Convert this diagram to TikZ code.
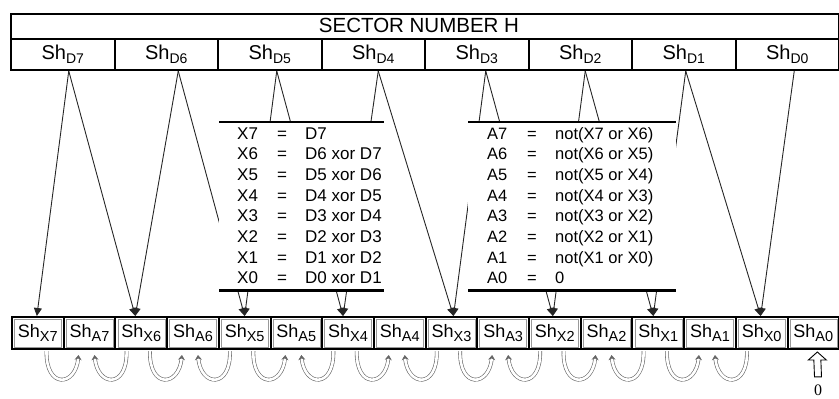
\documentclass[tikz,border=0pt]{standalone}
\usepackage{fontspec}
\setmainfont{Liberation Sans}
\newfontfamily\serifzero{Liberation Serif}
\usetikzlibrary{arrows.meta,calc}
\newcommand\ShTop[1]{{\fontsize{20}{22}\selectfont Sh}{\fontsize{14}{16}\selectfont\raisebox{-4.5pt}{#1}}}
\newcommand\ShBot[1]{{\fontsize{18}{20}\selectfont Sh}{\fontsize{14.5}{17}\selectfont\raisebox{-3.5pt}{#1}}}
\begin{document}
\begin{tikzpicture}[x=1pt,y=-1pt,
  topcell/.style={draw=black, line width=2pt, minimum width=103.5pt, minimum height=31pt, inner sep=0pt, anchor=north west},
  botcell/.style={draw=black, line width=2pt, minimum width=51.7pt, minimum height=32pt, inner sep=0pt, anchor=north west},
  innercell/.style={draw=black!40, line width=0.5pt, minimum width=47pt, minimum height=27.5pt, inner sep=0pt},
  feed/.style={line width=0.9pt, draw=black!85, -{Triangle[width=8pt,length=8pt]}},
  loopar/.style={draw=black!60, double=white, double distance=2.6pt, line width=0.6pt, -{Stealth[length=5pt,width=7pt]}},
  tabbox/.style={fill=white, inner sep=0pt, anchor=north west, minimum height=168pt},
  rule/.style={line width=2.5pt},
  xq/.style={font=\fontsize{17}{20}\selectfont, inner sep=0pt},
  aq/.style={font=\fontsize{16.5}{20}\selectfont, inner sep=0pt},
]
\useasboundingbox (0,0) rectangle (839,399);

% top register
\node[draw=black, line width=2pt, minimum width=828pt, minimum height=25pt, inner sep=0pt, anchor=north west] (title) at (10,13) {};
\node[font=\fontsize{20.5}{24}\selectfont, inner sep=0pt] (ttext) at (419,25.5) {SECTOR NUMBER H};
\foreach \i [count=\k from 0] in {7,...,0}
  \node[topcell] (D\i) at ({10+103.5*\k},38) {\ShTop{D\i}};

% bottom register
\foreach \i [count=\k from 0] in {7,...,0}{
  \node[botcell] (X\i) at ({11+103.4*\k},316) {};
  \node[innercell] (Xi\i) at (X\i.center) {\ShBot{X\i}};
  \node[botcell] (A\i) at ({11+103.4*\k+51.7},316) {};
  \node[innercell] (Ai\i) at (A\i.center) {\ShBot{A\i}};
}

% feed lines D -> X
\draw[feed] ([xshift=6pt]D7.south) -- ([xshift=-1pt]X7.north);
\draw[feed] ([xshift=6pt]D7.south) -- ([xshift=-6pt]X6.north);
\draw[feed] ([xshift=12pt]D6.south) -- ([xshift=-6pt]X6.north);
\draw[feed] ([xshift=12pt]D6.south) -- ([xshift=0pt]X5.north);
\draw[feed] ([xshift=7pt]D5.south) -- ([xshift=0pt]X5.north);
\draw[feed] ([xshift=7pt]D5.south) -- ([xshift=-5pt]X4.north);
\draw[feed] ([xshift=5pt]D4.south) -- ([xshift=-5pt]X4.north);
\draw[feed] ([xshift=5pt]D4.south) -- ([xshift=2pt]X3.north);
\draw[feed] ([xshift=9pt]D3.south) -- ([xshift=2pt]X3.north);
\draw[feed] ([xshift=9pt]D3.south) -- ([xshift=-2pt]X2.north);
\draw[feed] ([xshift=5pt]D2.south) -- ([xshift=-2pt]X2.north);
\draw[feed] ([xshift=5pt]D2.south) -- ([xshift=-5pt]X1.north);
\draw[feed] ([xshift=2pt]D1.south) -- ([xshift=-5pt]X1.north);
\draw[feed] ([xshift=2pt]D1.south) -- ([xshift=-1pt]X0.north);
\draw[feed] ([xshift=7pt]D0.south) -- ([xshift=-1pt]X0.north);

% X table
\node[tabbox, minimum width=165pt] (tabX) at (219,122) {};
\draw[rule] (tabX.north west) -- (tabX.north east);
\draw[rule] (tabX.south west) -- (tabX.south east);
\foreach \a/\b [count=\k from 0] in {X7/D7, X6/D6 xor D7, X5/D5 xor D6, X4/D4 xor D5, X3/D3 xor D4, X2/D2 xor D3, X1/D1 xor D2, X0/D0 xor D1}{
  \node[xq, anchor=base west] (xl\k) at (237,{139+20.7*\k}) {\a};
  \node[xq, anchor=base] (xe\k) at (282,{139+20.7*\k}) {=};
  \node[xq, anchor=base west] (xr\k) at (305,{139+20.7*\k}) {\b};
}

% A table
\node[tabbox, minimum width=208pt] (tabA) at (468,122) {};
\draw[rule] (tabA.north west) -- (tabA.north east);
\draw[rule] (tabA.south west) -- (tabA.south east);
\foreach \a/\b [count=\k from 0] in {A7/not(X7 or X6), A6/not(X6 or X5), A5/not(X5 or X4), A4/not(X4 or X3), A3/not(X3 or X2), A2/not(X2 or X1), A1/not(X1 or X0), A0/0}{
  \node[aq, anchor=base west] (al\k) at (487,{139+20.7*\k}) {\a};
  \node[aq, anchor=base] (ae\k) at (532,{139+20.7*\k}) {=};
  \node[aq, anchor=base west] (ar\k) at (555,{139+20.7*\k}) {\b};
}

% loops X -> A
\foreach \i in {7,...,1}{
  \draw[loopar] ([xshift=-43pt,yshift=-1pt]A\i.south) .. controls +(-1,38) and +(-3,32) .. ([xshift=-11pt,yshift=-5pt]A\i.south);
  \draw[loopar] ([xshift=37pt,yshift=-1pt]A\i.south) .. controls +(1,38) and +(3,32) .. ([xshift=5pt,yshift=-5pt]A\i.south);
}

% constant 0 input
\node[font=\serifzero\fontsize{16}{18}\selectfont, inner sep=0pt] (zero) at (818,390.5) {0};
\coordinate (zb) at ([yshift=8pt]zero.north);
\coordinate (zt) at ([xshift=4pt,yshift=-2pt]A0.south);
\draw[line width=0.9pt, fill=white] ($(zb)+(-3.5,0)$) -- ($(zt)+(-3.5,8)$) -- ($(zt)+(-9,8)$) -- (zt) -- ($(zt)+(9,8)$) -- ($(zt)+(3.5,8)$) -- ($(zb)+(3.5,0)$) -- cycle;
\end{tikzpicture}
\end{document}
